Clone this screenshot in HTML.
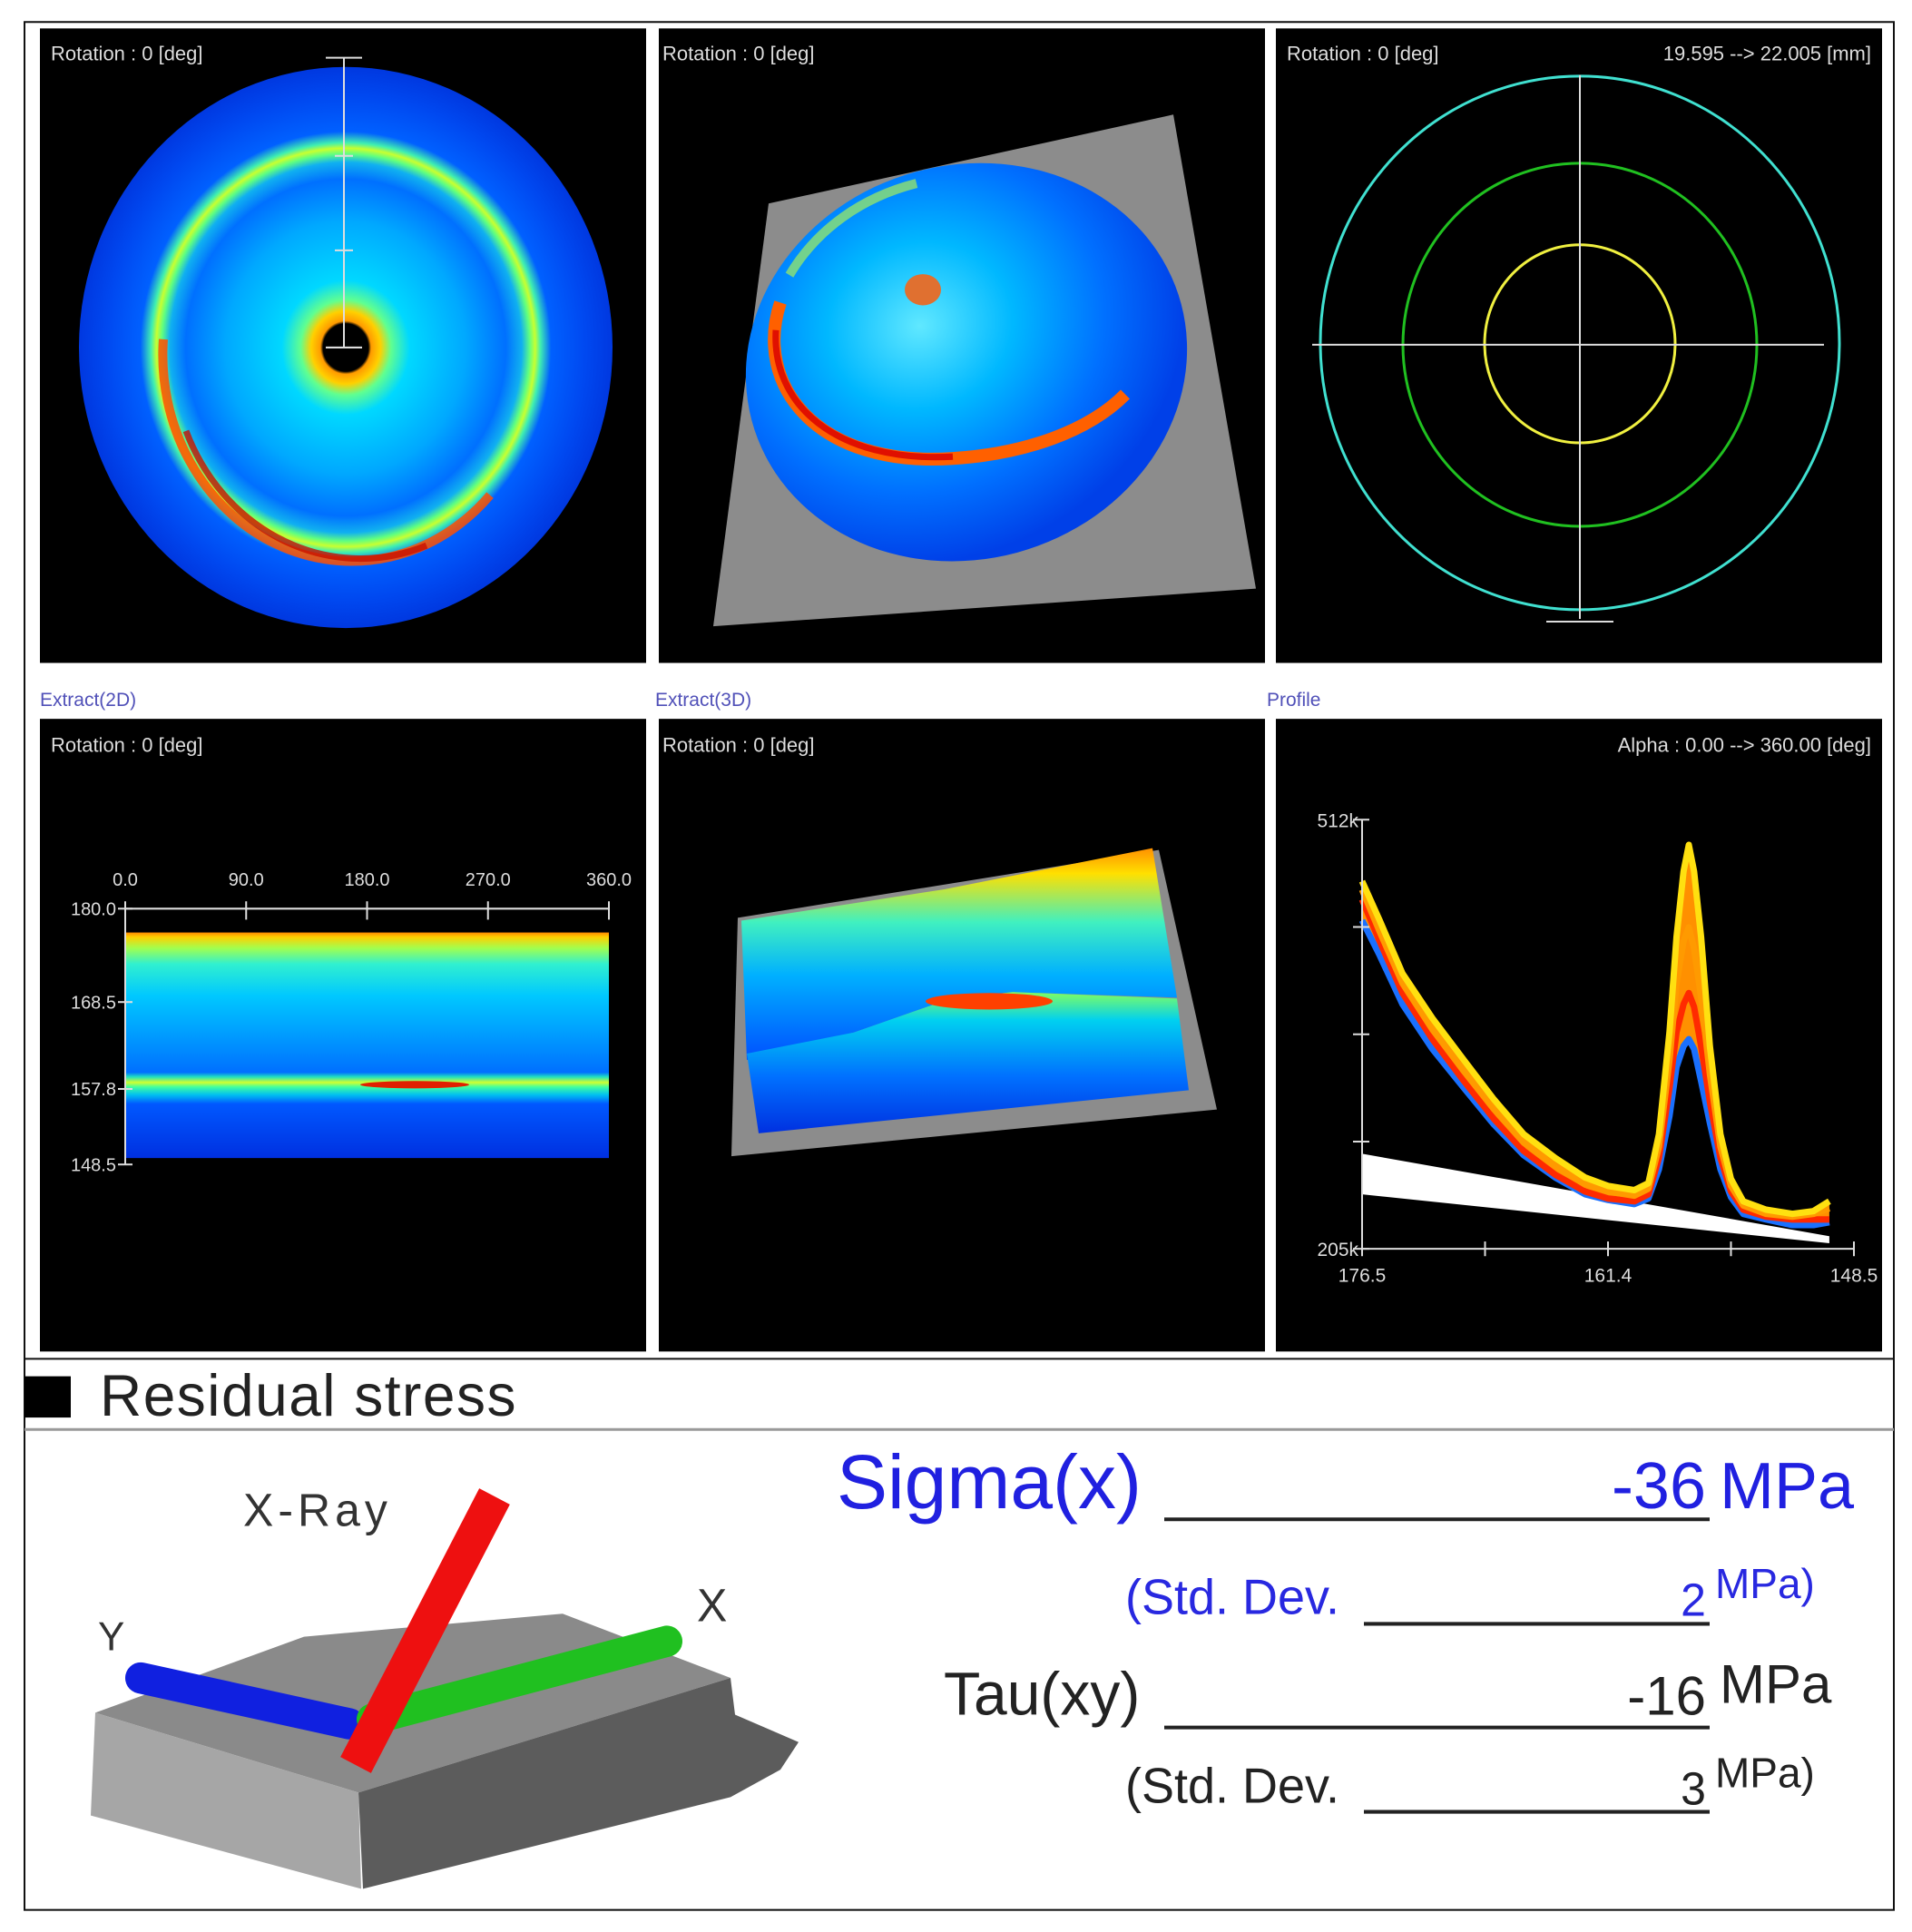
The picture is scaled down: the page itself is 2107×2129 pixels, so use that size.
<!DOCTYPE html>
<html><head><meta charset="utf-8"><style>
html,body{margin:0;padding:0;background:#fff;}
svg{display:block;font-family:"Liberation Sans",sans-serif;}
</style></head><body>
<svg id="root" width="2107" height="2129" viewBox="0 0 2107 2129" xmlns="http://www.w3.org/2000/svg">
<defs>
<radialGradient id="ringG" cx="0.5" cy="0.5" r="0.5">
<stop offset="0" stop-color="#000"/><stop offset="0.085" stop-color="#000"/>
<stop offset="0.095" stop-color="#ff9a00"/><stop offset="0.13" stop-color="#ffd000"/>
<stop offset="0.17" stop-color="#60ff90"/><stop offset="0.24" stop-color="#00d8ff"/>
<stop offset="0.45" stop-color="#00a8ff"/><stop offset="0.6" stop-color="#0070ff"/>
<stop offset="0.66" stop-color="#10b0f0"/><stop offset="0.69" stop-color="#60ff80"/>
<stop offset="0.71" stop-color="#c8ff30"/><stop offset="0.73" stop-color="#40f0b0"/>
<stop offset="0.77" stop-color="#0060ff"/><stop offset="0.9" stop-color="#0048f0"/>
<stop offset="1" stop-color="#0038e0"/></radialGradient>
<radialGradient id="domeG" cx="0.42" cy="0.38" r="0.6">
<stop offset="0" stop-color="#60e8ff"/><stop offset="0.35" stop-color="#00b8ff"/>
<stop offset="0.7" stop-color="#0070ff"/><stop offset="1" stop-color="#0040e8"/></radialGradient>
<linearGradient id="ext2G" x1="0" y1="0" x2="0" y2="1">
<stop offset="0" stop-color="#ff8800"/><stop offset="0.02" stop-color="#ffd000"/>
<stop offset="0.07" stop-color="#a0ff50"/><stop offset="0.14" stop-color="#30f0d0"/>
<stop offset="0.28" stop-color="#00c8ff"/><stop offset="0.5" stop-color="#0090ff"/>
<stop offset="0.62" stop-color="#0070ff"/><stop offset="0.64" stop-color="#20e0c0"/>
<stop offset="0.665" stop-color="#d0ff30"/><stop offset="0.685" stop-color="#40ffa0"/>
<stop offset="0.72" stop-color="#00c0f0"/><stop offset="0.76" stop-color="#0058ff"/>
<stop offset="1" stop-color="#0030e0"/></linearGradient>
<linearGradient id="ext3a" x1="0" y1="0" x2="0" y2="1">
<stop offset="0" stop-color="#ff9000"/><stop offset="0.12" stop-color="#ffe000"/>
<stop offset="0.35" stop-color="#40f0c0"/><stop offset="0.6" stop-color="#00b0ff"/>
<stop offset="1" stop-color="#0050ff"/></linearGradient>
<linearGradient id="ext3b" x1="0" y1="0" x2="0" y2="1">
<stop offset="0" stop-color="#80ff60"/><stop offset="0.2" stop-color="#00d0f0"/>
<stop offset="0.6" stop-color="#0070ff"/><stop offset="1" stop-color="#0030e0"/></linearGradient>
</defs>
<g transform="scale(1,1.0104)">
<rect x="27" y="24" width="2060" height="2059" fill="#fff" stroke="#111" stroke-width="2"/>

<!-- Panel 1 -->
<g>
<rect x="44" y="31" width="668" height="692" fill="#000"/>
<ellipse cx="381" cy="379" rx="294" ry="306" fill="url(#ringG)"/>
<path d="M 180 370 A 208 225 0 0 0 540 540" fill="none" stroke="#ff5000" stroke-width="10" opacity="0.85"/>
<path d="M 205 470 A 208 225 0 0 0 470 595" fill="none" stroke="#c81000" stroke-width="7" opacity="0.8"/>
<line x1="379" y1="63" x2="379" y2="379" stroke="#ddd" stroke-width="2"/>
<line x1="359" y1="63" x2="399" y2="63" stroke="#ddd" stroke-width="2"/>
<line x1="369" y1="170" x2="389" y2="170" stroke="#ddd" stroke-width="2"/>
<line x1="369" y1="273" x2="389" y2="273" stroke="#ddd" stroke-width="2"/>
<line x1="359" y1="379" x2="399" y2="379" stroke="#ddd" stroke-width="2"/>
<text x="56" y="66" font-size="22" fill="#ddd">Rotation : 0 [deg]</text>
</g>

<!-- Panel 2 -->
<g>
<rect x="726" y="31" width="668" height="692" fill="#000"/>
<polygon points="847,222 1293,125 1384,642 786,683" fill="#8c8c8c"/>
<ellipse cx="1065" cy="395" rx="245" ry="215" transform="rotate(-15 1065 395)" fill="url(#domeG)"/>
<path d="M 860 330 C 830 420 900 510 1050 500 C 1130 495 1200 470 1240 430" fill="none" stroke="#ff6000" stroke-width="14"/>
<path d="M 855 360 C 850 440 920 505 1050 498" fill="none" stroke="#e01000" stroke-width="7"/>
<path d="M 870 300 C 900 250 950 215 1010 200" fill="none" stroke="#c0ff40" stroke-width="10" opacity="0.6"/>
<ellipse cx="1017" cy="316" rx="20" ry="17" fill="#e07030"/>
<text x="730" y="66" font-size="22" fill="#ddd">Rotation : 0 [deg]</text>
</g>

<!-- Panel 3 -->
<g>
<rect x="1406" y="31" width="668" height="692" fill="#000"/>
<ellipse cx="1741" cy="374" rx="286" ry="291" fill="none" stroke="#40e0d0" stroke-width="3"/>
<ellipse cx="1741" cy="376" rx="195" ry="198" fill="none" stroke="#20c020" stroke-width="3"/>
<ellipse cx="1741" cy="375" rx="105" ry="108" fill="none" stroke="#f0f040" stroke-width="3"/>
<line x1="1446" y1="376" x2="2010" y2="376" stroke="#ddd" stroke-width="2"/>
<line x1="1741" y1="82" x2="1741" y2="675" stroke="#ddd" stroke-width="2"/>
<line x1="1704" y1="678" x2="1778" y2="678" stroke="#ddd" stroke-width="2"/>
<text x="1418" y="66" font-size="22" fill="#ddd">Rotation : 0 [deg]</text>
<text x="2062" y="66" font-size="22" fill="#ddd" text-anchor="end">19.595 --&gt; 22.005 [mm]</text>
</g>

<text x="44" y="770" font-size="21" fill="#5050b8">Extract(2D)</text>
<text x="722" y="770" font-size="21" fill="#5050b8">Extract(3D)</text>
<text x="1396" y="770" font-size="21" fill="#5050b8">Profile</text>

<!-- Panel 4 -->
<g>
<rect x="44" y="784" width="668" height="690" fill="#000"/>
<text x="56" y="820" font-size="22" fill="#ddd">Rotation : 0 [deg]</text>
<rect x="138" y="1017" width="533" height="246" fill="url(#ext2G)"/>
<ellipse cx="457" cy="1183" rx="60" ry="4" fill="#e02000"/>
<g id="ext2axes" stroke="#ddd" stroke-width="2" fill="#ddd" font-size="20"></g>
</g>

<!-- Panel 5 -->
<g>
<rect x="726" y="784" width="668" height="690" fill="#000"/>
<text x="730" y="820" font-size="22" fill="#ddd">Rotation : 0 [deg]</text>
<polygon points="813,1001 1277,927 1341,1210 806,1261" fill="#8c8c8c"/>
<polygon points="817,1004 1040,970 1270,925 1297,1088 1116,1082 1048,1089 941,1126 823,1156" fill="url(#ext3a)"/>
<polygon points="823,1149 941,1126 1048,1089 1116,1082 1297,1089 1310,1189 836,1236" fill="url(#ext3b)"/>
<ellipse cx="1090" cy="1092" rx="70" ry="9" fill="#ff4000"/>
</g>

<!-- Panel 6 -->
<g>
<rect x="1406" y="784" width="668" height="690" fill="#000"/>
<text x="2062" y="820" font-size="22" fill="#ddd" text-anchor="end">Alpha : 0.00 --&gt; 360.00 [deg]</text>
<g id="profile"></g>
</g>

<!-- Bottom section -->
<line x1="27" y1="1482" x2="2087" y2="1482" stroke="#111" stroke-width="2"/>
<rect x="27" y="1501" width="51" height="45" fill="#000"/>
<text x="110" y="1544" font-size="64" fill="#222" letter-spacing="1.5">Residual stress</text>
<line x1="27" y1="1559" x2="2087" y2="1559" stroke="#999" stroke-width="3"/>

<g>
<polygon points="105,1868 335,1785 620,1760 805,1830 395,1955" fill="#8a8a8a"/>
<polygon points="105,1868 395,1955 398,2060 100,1980" fill="#a6a6a6"/>
<polygon points="395,1955 805,1830 810,1870 880,1900 860,1930 805,1960 400,2060" fill="#5c5c5c"/>
<line x1="155" y1="1830" x2="385" y2="1880" stroke="#1020e0" stroke-width="34" stroke-linecap="round"/>
<line x1="410" y1="1875" x2="735" y2="1790" stroke="#20c020" stroke-width="34" stroke-linecap="round"/>
<line x1="545" y1="1632" x2="392" y2="1925" stroke="#ee1010" stroke-width="38"/>
<text x="268" y="1664" font-size="50" fill="#333" letter-spacing="5">X-Ray</text>
<text x="108" y="1800" font-size="44" fill="#333">Y</text>
<text x="768" y="1768" font-size="50" fill="#333">X</text>
</g>

<g>
<text x="922" y="1645" font-size="84" fill="#2020e0">Sigma(x)</text>
<line x1="1283" y1="1657" x2="1884" y2="1657" stroke="#222" stroke-width="4"/>
<text x="1880" y="1645" font-size="72" fill="#2020e0" text-anchor="end">-36</text>
<text x="1895" y="1645" font-size="72" fill="#2020e0">MPa</text>

<text x="1240" y="1760" font-size="54" fill="#2828e0">(Std. Dev.</text>
<line x1="1503" y1="1771" x2="1884" y2="1771" stroke="#222" stroke-width="4"/>
<text x="1880" y="1762" font-size="50" fill="#2828e0" text-anchor="end">2</text>
<text x="1890" y="1743" font-size="46" fill="#2828e0">MPa)</text>

<text x="1040" y="1870" font-size="66" fill="#222">Tau(xy)</text>
<line x1="1283" y1="1884" x2="1884" y2="1884" stroke="#222" stroke-width="4"/>
<text x="1880" y="1870" font-size="60" fill="#222" text-anchor="end">-16</text>
<text x="1895" y="1857" font-size="60" fill="#222">MPa</text>

<text x="1240" y="1966" font-size="54" fill="#222">(Std. Dev.</text>
<line x1="1503" y1="1976" x2="1884" y2="1976" stroke="#222" stroke-width="4"/>
<text x="1880" y="1968" font-size="50" fill="#222" text-anchor="end">3</text>
<text x="1890" y="1949" font-size="46" fill="#222">MPa)</text>
</g>
</g>
</svg>
<script>
// Extract(2D) axes data
const ext2XTicks = ["0.0","90.0","180.0","270.0","360.0"];
const ext2XValues = [0,90,180,270,360];
const ext2YTicks = ["180.0","168.5","157.8","148.5"];
const ext2YValues = [180.0,168.5,157.8,148.5];
// Profile data
const twoTheta = [176.5,175.5,174.2,172.5,170.7,169,167.3,165.5,163.8,162.5,161.0,160.2,159.6,159.0,158.6,158.2,157.9,157.6,157.2,156.7,156.1,155.5,154.8,153.5,152.0,150.8,149.9];
const intensityYellow = [468,440,402,370,340,312,287,270,256,250,247,252,287,360,428,475,494,475,428,350,287,255,239,233,230,232,239];
const intensityOrange = [462,432,395,362,332,305,281,264,251,246,243,248,278,340,395,425,435,420,385,330,278,250,236,230,228,230,234];
const intensityRed = [455,425,388,355,325,298,275,258,246,241,239,244,270,320,360,380,388,378,350,310,270,246,233,228,226,226,226];
const intensityBlue = [440,415,380,348,320,294,272,256,244,240,237,241,262,300,335,350,355,348,325,295,262,242,230,226,222,222,224];
const bgTheta = [176.5,149.9];
const bgTop = [273,214];
const bgBottom = [244,209];
const profXTicks = ["176.5","","161.4","","148.5"];
const profYTicks = ["205k","","","","512k"];

const NS = "http://www.w3.org/2000/svg";
function mk(tag, attrs, parent){const e=document.createElementNS(NS,tag);for(const k in attrs)e.setAttribute(k,attrs[k]);parent.appendChild(e);return e;}

(function(){
  const g=document.getElementById('ext2axes');
  const x=v=>138+(v-0)/(360-0)*(671-138);
  const y=v=>991+(180-v)/(180-148.5)*(1270-991);
  mk('line',{x1:138,y1:991,x2:671,y2:991},g);
  mk('line',{x1:138,y1:991,x2:138,y2:1270},g);
  ext2XValues.forEach((v,i)=>{
    mk('line',{x1:x(v),y1:983,x2:x(v),y2:1003},g);
    const t=mk('text',{x:x(v),y:966,'text-anchor':'middle',stroke:'none'},g);t.textContent=ext2XTicks[i];
    
    
  });
  ext2YValues.forEach((v,i)=>{
    mk('line',{x1:130,y1:y(v),x2:146,y2:y(v)},g);
    const t=mk('text',{x:128,y:y(v)+7,'text-anchor':'end',stroke:'none'},g);t.textContent=ext2YTicks[i];
    
    
  });
})();

(function(){
  const g=document.getElementById('profile');
  const X0=1501,X1=2043,Y0=1362,Y1=894;
  const x=v=>X0+(176.5-v)/(176.5-148.5)*(X1-X0);
  const y=v=>Y0-(v-205)/(512-205)*(Y0-Y1);
  const bp=[[x(bgTheta[0]),y(bgTop[0])],[x(bgTheta[1]),y(bgTop[1])],[x(bgTheta[1]),y(bgBottom[1])],[x(bgTheta[0]),y(bgBottom[0])]];
  const bg=mk('polygon',{points:bp.map(p=>p.join(',')).join(' '),fill:'#fff'},g);
  
  
  const up=twoTheta.map((t,i)=>x(t)+','+y(intensityYellow[i]));
  const dn=twoTheta.map((t,i)=>x(t)+','+y(intensityBlue[i])).reverse();
  const band=mk('polygon',{points:up.concat(dn).join(' '),fill:'#ff9000'},g);
  
  
  const series=[[intensityBlue,'#1a70ff','series-blue'],[intensityRed,'#ff2a00','series-red'],[intensityOrange,'#ff9a00','series-orange'],[intensityYellow,'#ffe010','series-yellow']];
  series.forEach(s=>{
    const d=twoTheta.map((t,i)=>(i?'L':'M')+x(t)+' '+y(s[0][i])).join(' ');
    const p=mk('path',{d:d,fill:'none',stroke:s[1],'stroke-width':7,'stroke-linejoin':'round'},g);
    
    
  });
  const ax={stroke:'#ddd','stroke-width':2};
  mk('line',Object.assign({x1:X0,y1:Y0,x2:X1,y2:Y0},ax),g);
  mk('line',Object.assign({x1:X0,y1:Y0,x2:X0,y2:Y1},ax),g);
  profXTicks.forEach((lab,i)=>{
    const px=X0+i*(X1-X0)/(profXTicks.length-1);
    mk('line',Object.assign({x1:px,y1:Y0-8,x2:px,y2:Y0+8},ax),g);
    if(lab){const t=mk('text',{x:px,y:Y0+36,'text-anchor':'middle',fill:'#ddd','font-size':21},g);t.textContent=lab;
      
      }
  });
  profYTicks.forEach((lab,i)=>{
    const py=Y0-i*(Y0-Y1)/(profYTicks.length-1);
    mk('line',Object.assign({x1:X0-10,y1:py,x2:X0+8,y2:py},ax),g);
    if(lab){const t=mk('text',{x:X0-4,y:py+8,'text-anchor':'end',fill:'#ddd','font-size':21},g);t.textContent=lab;
      
      }
  });
})();
</script>
</body></html>
